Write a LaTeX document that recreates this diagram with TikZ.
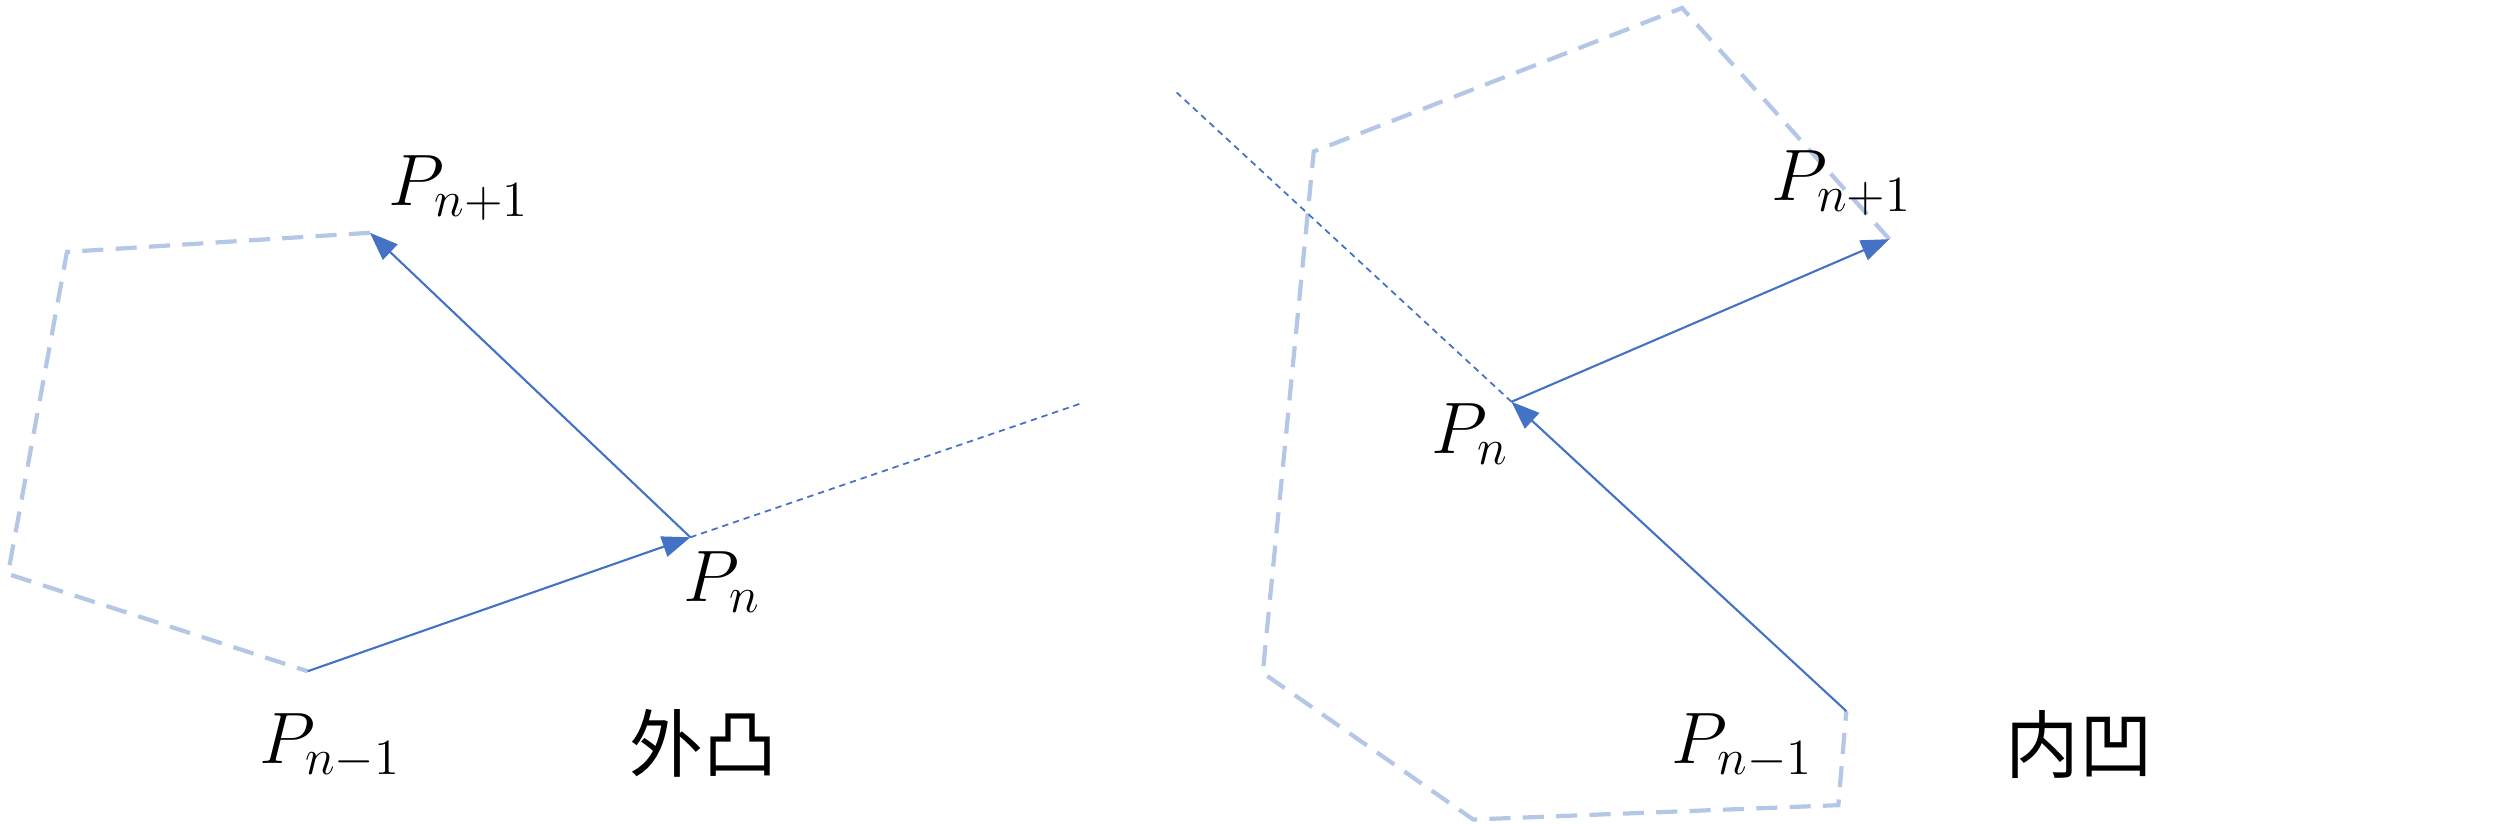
\documentclass[tikz,border=0pt]{standalone}
\usepackage{fontspec}
\newfontfamily\cjkfont{Noto Sans CJK SC}
\usetikzlibrary{positioning,arrows.meta}
\definecolor{lineblue}{HTML}{4472C4}
\definecolor{paleblue}{HTML}{B4C7E7}
\tikzset{vec/.style={draw=lineblue,line width=0.6pt,-{Triangle[length=8pt,width=6pt]}},
	 hull/.style={draw=paleblue,line width=1.2pt,dash pattern=on 6pt off 3.5pt},
	 ext/.style={draw=lineblue,line width=0.5pt,dash pattern=on 1.8pt off 1.4pt},
	 plab/.style={inner sep=0pt,font=\fontsize{21}{24}\selectfont},
	 tag/.style={inner sep=0pt,font=\cjkfont\fontsize{21}{24}\selectfont}
	 }
\begin{document}
\begin{tikzpicture}[x=0.015944cm,y=-0.015944cm]
	\useasboundingbox (0,0) rectangle (1568,516.8);
	% convex case
	\coordinate (l1) at (193,421); \coordinate (l2) at (433,337); \coordinate (l3) at (232,146);
	\coordinate (la) at (42,158); \coordinate (lb) at (5,360); \coordinate (lx) at (678,253);
	\draw[hull] (l3) -- (la) -- (lb) -- (l1);
	\draw[ext] (l2) -- (lx);
	\draw[vec] (l1) to (l2);
	\draw[vec] (l2) to (l3);
	\node[plab] (tl3) at (288,118) {$P_{n+1}$};
	\node[plab] (tl2) at (453,365) {$P_n$};
	\node[plab] (tl1) at (207,468) {$P_{n-1}$};
	\node[tag] (tl) at (441,466) {外凸};
	% concave case
	\coordinate (r1) at (1158,446); \coordinate (r2) at (948,252); \coordinate (r3) at (1185,150);
	\coordinate (ra) at (1055,5); \coordinate (rb) at (824,95); \coordinate (rc) at (792,422);
	\coordinate (rd) at (924,514); \coordinate (re) at (1153,505); \coordinate (rx) at (738,58);
	\draw[hull] (r3) -- (ra) -- (rb) -- (rc) -- (rd) -- (re) -- (r1);
	\draw[ext] (r2) -- (rx);
	\draw[vec] (r1) to (r2);
	\draw[vec] (r2) to (r3);
	\node[plab] (tr3) at (1155,115) {$P_{n+1}$};
	\node[plab] (tr2) at (922,272) {$P_n$};
	\node[plab] (tr1) at (1093,468) {$P_{n-1}$};
	\node[tag] (tr) at (1304,467) {内凹};
\end{tikzpicture}
\end{document}
